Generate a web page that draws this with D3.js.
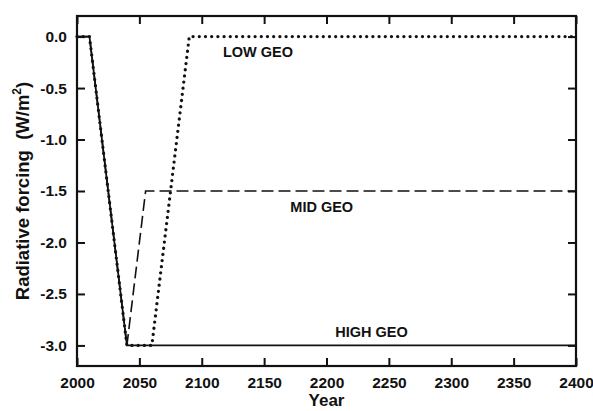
<!DOCTYPE html>
<html>
<head>
<meta charset="utf-8">
<script src="https://cdn.jsdelivr.net/npm/d3@7"></script>
<style>
body{margin:0;background:#fff;}
svg text{font-family:"Liberation Sans",Arial,sans-serif;font-weight:bold;fill:#111;}
</style>
</head>
<body>
<div id="chart"></div>
<script>
// data
const highYears=[2000,2010,2040,2400];
const highValues=[0,0,-3,-3];
const midYears=[2000,2010,2040,2055,2400];
const midValues=[0,0,-3,-1.5,-1.5];
const lowYears=[2000,2010,2040,2060,2090,2400];
const lowValues=[0,0,-3,-3,0,0];
const xTicks=[2000,2050,2100,2150,2200,2250,2300,2350,2400];
const yTicks=[0,-0.5,-1,-1.5,-2,-2.5,-3];

const width=593, height=411;
const margin={left:77,right:17,top:16,bottom:45};
const innerWidth=width-margin.left-margin.right;
const innerHeight=height-margin.top-margin.bottom;

const svg=d3.select("#chart").append("svg").attr("width",width).attr("height",height);
const g=svg.append("g").attr("transform",`translate(${margin.left},${margin.top})`);

const x=d3.scaleLinear().domain([2000,2400]).range([0,innerWidth]);
const y=d3.scaleLinear().domain([-3.2,0.2]).range([innerHeight,0]);

function pts(xs,vs){return xs.map((d,i)=>[d,vs[i]]);}
const line=d3.line().x(d=>x(d[0])).y(d=>y(d[1]));

// series
g.append("path").datum(pts(highYears,highValues)).attr("d",line)
  .attr("fill","none").attr("stroke","#111").attr("stroke-width",1.8);
g.append("path").datum(pts(midYears,midValues)).attr("d",line)
  .attr("fill","none").attr("stroke","#111").attr("stroke-width",1.6)
  .attr("stroke-dasharray","12,5");
g.append("path").datum(pts(lowYears,lowValues)).attr("d",line)
  .attr("fill","none").attr("stroke","#111").attr("stroke-width",3.3)
  .attr("stroke-linecap","round").attr("stroke-dasharray","0,6.2");

// axes (inward ticks on all sides)
const tk=8;
const xb=g.append("g").attr("transform",`translate(0,${innerHeight})`)
  .call(d3.axisBottom(x).tickValues(xTicks).tickSize(-tk).tickPadding(11).tickFormat(d3.format("d")));
const xt=g.append("g").call(d3.axisTop(x).tickValues(xTicks).tickSize(-tk));
const yl=g.append("g")
  .call(d3.axisLeft(y).tickValues(yTicks).tickSize(-tk).tickPadding(10));
const yr=g.append("g").attr("transform",`translate(${innerWidth},0)`)
  .call(d3.axisRight(y).tickValues(yTicks).tickSize(-tk));
xt.selectAll(".tick text").remove();
yr.selectAll(".tick text").remove();
[xb,xt,yl,yr].forEach(a=>{
  a.attr("font-family",null).attr("font-size",null);
  a.select(".domain").remove();
  a.selectAll(".tick line").attr("stroke","#111").attr("stroke-width",2);
  a.selectAll(".tick text").attr("fill","#111")
    .style("font-size","15.5px").style("font-weight","bold");
});
yl.selectAll(".tick text").text(d=>d3.format(".1f")(d).replace("\u2212","-"));

g.append("rect").attr("width",innerWidth).attr("height",innerHeight)
  .attr("fill","none").attr("stroke","#111").attr("stroke-width",2.2);

// series labels
const lab={size:"14.5px"};
g.append("text").attr("x",x(2117)).attr("y",y(0)+20).style("font-size",lab.size).text("LOW GEO");
g.append("text").attr("x",x(2171)).attr("y",y(-1.5)+21).style("font-size",lab.size).text("MID GEO");
g.append("text").attr("x",x(2207)).attr("y",y(-3)-8).style("font-size",lab.size).text("HIGH GEO");

// axis titles
svg.append("text").attr("x",margin.left+innerWidth/2).attr("y",406)
  .attr("text-anchor","middle").style("font-size","17px").text("Year");
const yt=svg.append("text").attr("transform",`translate(29,${margin.top+innerHeight/2}) rotate(-90)`)
  .attr("text-anchor","middle").style("font-size","18.5px");
yt.append("tspan").text("Radiative forcing\u00a0 (W/m");
yt.append("tspan").attr("dy",-8).style("font-size","12px").text("2");
yt.append("tspan").attr("dy",8).text(")");
</script>
</body>
</html>
